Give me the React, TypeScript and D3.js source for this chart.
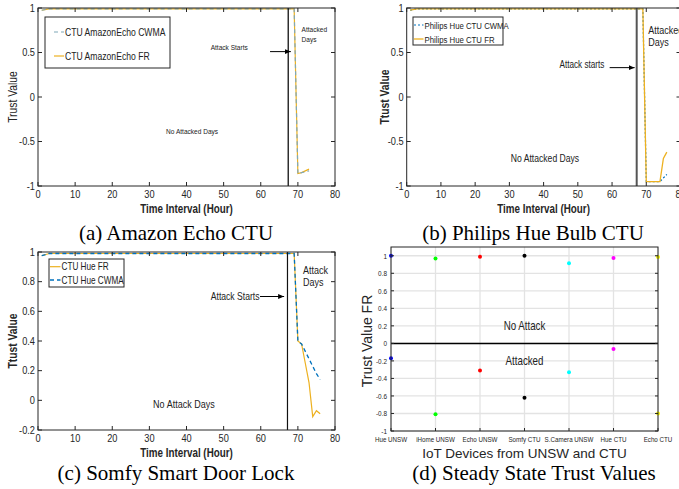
import React from "react";
import * as d3 from "d3";

// ---- data ----
const hourTicks = [0, 10, 20, 30, 40, 50, 60, 70, 80];

// (a) Amazon Echo CTU
const echoHours = [1, 3, 69, 70, 71, 72, 73];
const echoFR = [0.975, 0.99, 0.99, -0.86, -0.85, -0.83, -0.81];
const echoCWMA = [0.975, 0.99, 0.99, -0.86, -0.85, -0.84, -0.83];
const echoYTicks = [-1, -0.5, 0, 0.5, 1];

// (b) Philips Hue Bulb CTU
const hueHours = [1, 3, 69, 70, 74, 75, 76];
const hueFR = [0.975, 0.99, 0.99, -0.95, -0.95, -0.69, -0.62];
const hueCWMA = [0.975, 0.99, 0.99, -0.95, -0.95, -0.91, -0.87];
const hueYTicks = [-1, -0.5, 0, 0.5, 1];

// (c) Somfy Smart Door Lock
const somfyHours = [1, 3, 69, 70, 71, 72, 73, 74, 75, 76];
const somfyFR = [0.975, 0.99, 0.99, 0.4, 0.38, 0.25, 0.12, -0.11, -0.07, -0.09];
const somfyCWMA = [0.975, 0.99, 0.99, 0.4, 0.38, 0.33, 0.28, 0.23, 0.18, 0.14];
const somfyYTicks = [-0.2, 0, 0.2, 0.4, 0.6, 0.8, 1];

// (d) Steady state trust values
const devices = ["Hue UNSW", "iHome UNSW", "Echo UNSW", "Somfy CTU", "S.Camera UNSW", "Hue CTU", "Echo CTU"];
const steadyNormal = [1.0, 0.97, 0.99, 1.0, 0.915, 0.975, 0.985];
const steadyAttacked = [-0.17, -0.81, -0.31, -0.62, -0.33, -0.065, -0.8];
const deviceColors = ["#0000ff", "#00ff00", "#ff0000", "#000000", "#00ffff", "#ff00ff", "#ffff00"];
const steadyYTicks = [-1, -0.8, -0.6, -0.4, -0.2, 0, 0.2, 0.4, 0.6, 0.8, 1];

const SANS = "'Liberation Sans', Arial, sans-serif";
const SERIF = "'Liberation Serif', 'Times New Roman', serif";
const FR_COLOR = "#EDB120";
const CWMA_COLOR = "#0072BD";
const AXIS = "#262626";
const NARROW = 0.82; // the original figure's sans text is condensed

type Box = { left: number; right: number; top: number; bottom: number };
type Series = { label: string; xs: number[]; ys: number[]; color: string; dash?: string; width: number };
type Note = { text: string; x: number; y: number; anchor?: "start" | "middle" | "end"; size: number };
type Legend = { x: number; y: number; w: number; h: number; rows: number[]; lineX: [number, number]; size: number };

const fmt = (v: number) => String(+v.toFixed(2));

// condensed text: translate, optionally rotate, then squeeze along the baseline
function T(props: {
  x: number;
  y: number;
  sx?: number;
  rot?: number;
  size: number;
  anchor?: "start" | "middle" | "end";
  bold?: boolean;
  fill?: string;
  children: React.ReactNode;
}) {
  const { x, y, sx = NARROW, rot = 0, size, anchor = "middle", bold, fill = "#262626" } = props;
  return (
    <text
      transform={`translate(${x},${y})${rot ? ` rotate(${rot})` : ""} scale(${sx},1)`}
      fontSize={size}
      textAnchor={anchor}
      fontWeight={bold ? "bold" : "normal"}
      fill={fill}
    >
      {props.children}
    </text>
  );
}

function LinePanel(props: {
  id: string;
  box: Box;
  yDomain: [number, number];
  yTicks: number[];
  yLabel: string;
  yLabelX: number;
  yLabelBold: boolean;
  series: Series[];
  legendOrder: number[];
  legend: Legend;
  attackHour: number;
  attackColor: string;
  attackWidth: number;
  arrow: [number, number, number];
  notes: Note[];
}) {
  const { id, box, yDomain, yTicks, series, legend } = props;
  const x = d3.scaleLinear().domain([0, 80]).range([box.left, box.right]);
  const y = d3.scaleLinear().domain(yDomain).range([box.bottom, box.top]);
  const line = d3
    .line<[number, number]>()
    .x((d) => x(d[0]))
    .y((d) => y(d[1]));
  const tk = 4;
  const [a0, a1, av] = props.arrow;

  return (
    <g fontFamily={SANS}>
      <defs>
        <marker id={`arr-${id}`} viewBox="0 0 10 10" refX="10" refY="5" markerWidth="6" markerHeight="6" orient="auto">
          <path d="M0,1 L10,5 L0,9 z" fill="#000" />
        </marker>
      </defs>
      <rect x={box.left} y={box.top} width={box.right - box.left} height={box.bottom - box.top} fill="#fff" />

      {series.map((s) => (
        <path
          key={s.label}
          d={line(s.xs.map((v, i) => [v, s.ys[i]] as [number, number])) || ""}
          fill="none"
          stroke={s.color}
          strokeWidth={s.width}
          strokeDasharray={s.dash}
        />
      ))}

      <line
        x1={x(props.attackHour)}
        x2={x(props.attackHour)}
        y1={box.top}
        y2={box.bottom}
        stroke={props.attackColor}
        strokeWidth={props.attackWidth}
      />
      <line
        x1={x(a0)}
        x2={x(a1)}
        y1={y(av)}
        y2={y(av)}
        stroke="#000"
        strokeWidth={1}
        markerEnd={`url(#arr-${id})`}
      />

      {props.notes.map((n, i) => (
        <T key={i} x={x(n.x)} y={y(n.y)} size={n.size} anchor={n.anchor || "middle"} fill="#222">
          {n.text}
        </T>
      ))}

      {/* frame + inward ticks on all four sides */}
      <rect
        x={box.left}
        y={box.top}
        width={box.right - box.left}
        height={box.bottom - box.top}
        fill="none"
        stroke={AXIS}
        strokeWidth={1}
      />
      {hourTicks.map((t) => (
        <g key={`xt${t}`}>
          <line x1={x(t)} x2={x(t)} y1={box.bottom} y2={box.bottom - tk} stroke={AXIS} />
          <line x1={x(t)} x2={x(t)} y1={box.top} y2={box.top + tk} stroke={AXIS} />
          <T x={x(t)} y={box.bottom + 12} size={10.5} sx={0.88}>
            {t}
          </T>
        </g>
      ))}
      {yTicks.map((t) => (
        <g key={`yt${t}`}>
          <line x1={box.left} x2={box.left + tk} y1={y(t)} y2={y(t)} stroke={AXIS} />
          <line x1={box.right} x2={box.right - tk} y1={y(t)} y2={y(t)} stroke={AXIS} />
          <T x={box.left - 3} y={y(t) + 3.5} size={10.5} sx={0.88} anchor="end">
            {fmt(t)}
          </T>
        </g>
      ))}

      <T x={(box.left + box.right) / 2} y={box.bottom + 27} size={12} bold>
        Time Interval (Hour)
      </T>
      <T x={props.yLabelX} y={(box.top + box.bottom) / 2} rot={-90} size={12} sx={0.86} bold={props.yLabelBold}>
        {props.yLabel}
      </T>

      {/* legend */}
      <rect x={legend.x} y={legend.y} width={legend.w} height={legend.h} fill="#fff" stroke={AXIS} strokeWidth={1} />
      {props.legendOrder.map((si, r) => {
        const s = series[si];
        const ry = legend.rows[r];
        return (
          <g key={s.label}>
            <line
              x1={legend.lineX[0]}
              x2={legend.lineX[1]}
              y1={ry}
              y2={ry}
              stroke={s.color}
              strokeWidth={s.width}
              strokeDasharray={s.dash}
            />
            <T x={legend.lineX[1] + 1} y={ry + 3.5} size={legend.size} anchor="start" fill="#222">
              {s.label}
            </T>
          </g>
        );
      })}
    </g>
  );
}

function SteadyPanel({ box }: { box: Box }) {
  const x = d3.scalePoint<string>().domain(devices).range([box.left, box.right]);
  const y = d3.scaleLinear().domain([-1, 1.1]).range([box.bottom, box.top]);
  const tk = 3;
  const mid = (box.left + box.right) / 2;
  return (
    <g fontFamily={SANS}>
      <rect x={box.left} y={box.top} width={box.right - box.left} height={box.bottom - box.top} fill="#fff" />
      {devices.map((d) => (
        <line key={`vg${d}`} x1={x(d)} x2={x(d)} y1={box.top} y2={box.bottom} stroke="#e3e3e3" strokeWidth={1.3} />
      ))}
      {steadyYTicks.map((t) => (
        <line key={`hg${t}`} x1={box.left} x2={box.right} y1={y(t)} y2={y(t)} stroke="#e3e3e3" strokeWidth={1.3} />
      ))}
      <line x1={box.left} x2={box.right} y1={y(0)} y2={y(0)} stroke="#000" strokeWidth={1.5} />

      <T x={mid} y={y(0.2) + 4} size={12.5} sx={0.78} fill="#222">
        No Attack
      </T>
      <T x={mid} y={y(-0.2) + 4} size={12.5} sx={0.78} fill="#222">
        Attacked
      </T>

      {devices.map((d, i) => (
        <g key={`pt${d}`}>
          <circle cx={x(d)} cy={y(steadyNormal[i])} r={2} fill={deviceColors[i]} />
          <circle cx={x(d)} cy={y(steadyAttacked[i])} r={2} fill={deviceColors[i]} />
        </g>
      ))}

      <rect
        x={box.left}
        y={box.top}
        width={box.right - box.left}
        height={box.bottom - box.top}
        fill="none"
        stroke={AXIS}
        strokeWidth={1}
      />
      {steadyYTicks.map((t) => (
        <g key={`yt${t}`}>
          <line x1={box.left} x2={box.left + tk} y1={y(t)} y2={y(t)} stroke={AXIS} />
          <line x1={box.right} x2={box.right - tk} y1={y(t)} y2={y(t)} stroke={AXIS} />
          <T x={box.left - 4} y={y(t) + 3} size={8} sx={0.8} anchor="end">
            {fmt(t)}
          </T>
        </g>
      ))}
      {devices.map((d) => (
        <g key={`xt${d}`}>
          <line x1={x(d)} x2={x(d)} y1={box.bottom} y2={box.bottom - tk} stroke={AXIS} />
          <T x={x(d)} y={box.bottom + 11} size={8} sx={0.78}>
            {d}
          </T>
        </g>
      ))}
      <T x={mid} y={box.bottom + 27} size={13.5} sx={1}>
        IoT Devices from UNSW and CTU
      </T>
      <T x={box.left - 19} y={(box.top + box.bottom) / 2 + 2} rot={-90} size={14} sx={1}>
        Trust Value FR
      </T>
    </g>
  );
}

export default function App() {
  const W = 679;
  const H = 489;
  const boxA = { left: 38, right: 335, top: 8, bottom: 186 };
  const boxB = { left: 406.7, right: 680.5, top: 8, bottom: 186 };
  const boxC = { left: 38, right: 335, top: 252, bottom: 430 };
  const boxD = { left: 391, right: 658, top: 247, bottom: 431 };

  return (
    <svg
      width={W}
      height={H}
      viewBox={`0 0 ${W} ${H}`}
      style={{ position: "absolute", left: 0, top: 0, background: "#fff" }}
    >
      <rect width={W} height={H} fill="#fff" />

      <LinePanel
        id="b"
        box={boxB}
        yDomain={[-1, 1]}
        yTicks={hueYTicks}
        yLabel="Ttust Value"
        yLabelX={389}
        yLabelBold={true}
        series={[
          { label: "Philips Hue CTU CWMA", xs: hueHours, ys: hueCWMA, color: CWMA_COLOR, dash: "2,2", width: 1.2 },
          { label: "Philips Hue CTU FR", xs: hueHours, ys: hueFR, color: FR_COLOR, width: 1.3 },
        ]}
        legendOrder={[0, 1]}
        legend={{ x: 413, y: 17, w: 90, h: 28, rows: [25, 39], lineX: [414, 423.5], size: 9.5 }}
        attackHour={67.2}
        attackColor="#555"
        attackWidth={2}
        arrow={[59.3, 66.6, 0.33]}
        notes={[
          { text: "Attack starts", x: 51.2, y: 0.33, size: 10 },
          { text: "Attacked", x: 70.6, y: 0.71, size: 11, anchor: "start" },
          { text: "Days", x: 70.6, y: 0.575, size: 11, anchor: "start" },
          { text: "No Attacked Days", x: 40.4, y: -0.725, size: 10.5 },
        ]}
      />

      <LinePanel
        id="a"
        box={boxA}
        yDomain={[-1, 1]}
        yTicks={echoYTicks}
        yLabel="Trust Value"
        yLabelX={17}
        yLabelBold={false}
        series={[
          { label: "CTU AmazonEcho FR", xs: echoHours, ys: echoFR, color: FR_COLOR, width: 1.2 },
          { label: "CTU AmazonEcho CWMA", xs: echoHours, ys: echoCWMA, color: "#7fa8b8", dash: "4,3", width: 1.2 },
        ]}
        legendOrder={[1, 0]}
        legend={{ x: 45, y: 17, w: 125, h: 51, rows: [32, 56], lineX: [54, 64], size: 10.5 }}
        attackHour={67.4}
        attackColor="#111"
        attackWidth={1.3}
        arrow={[62.5, 68.1, 0.51]}
        notes={[
          { text: "Attack Starts", x: 51.5, y: 0.53, size: 8 },
          { text: "Attacked", x: 71, y: 0.73, size: 8, anchor: "start" },
          { text: "Days", x: 71, y: 0.62, size: 8, anchor: "start" },
          { text: "No Attacked Days", x: 41.5, y: -0.42, size: 8 },
        ]}
      />

      <LinePanel
        id="c"
        box={boxC}
        yDomain={[-0.2, 1]}
        yTicks={somfyYTicks}
        yLabel="Ttust Value"
        yLabelX={17}
        yLabelBold={true}
        series={[
          { label: "CTU Hue FR", xs: somfyHours, ys: somfyFR, color: FR_COLOR, width: 1.2 },
          { label: "CTU Hue CWMA", xs: somfyHours, ys: somfyCWMA, color: CWMA_COLOR, dash: "4,3", width: 1.3 },
        ]}
        legendOrder={[0, 1]}
        legend={{ x: 49, y: 259, w: 75, h: 28, rows: [266.7, 280], lineX: [50, 60.5], size: 10 }}
        attackHour={67.2}
        attackColor="#111"
        attackWidth={1.2}
        arrow={[59.8, 66.3, 0.7]}
        notes={[
          { text: "Attack Starts", x: 53.1, y: 0.676, size: 10.5 },
          { text: "Attack", x: 71.4, y: 0.85, size: 11, anchor: "start" },
          { text: "Days", x: 71.4, y: 0.774, size: 11, anchor: "start" },
          { text: "No Attack Days", x: 39.3, y: -0.05, size: 11 },
        ]}
      />

      <SteadyPanel box={boxD} />

      <g fontFamily={SERIF} fontSize={21} fill="#000" textAnchor="middle">
        <text x={176} y={240}>(a) Amazon Echo CTU</text>
        <text x={533} y={240}>(b) Philips Hue Bulb CTU</text>
        <text x={176} y={480}>(c) Somfy Smart Door Lock</text>
        <text x={534} y={480}>(d) Steady State Trust Values</text>
      </g>
    </svg>
  );
}
